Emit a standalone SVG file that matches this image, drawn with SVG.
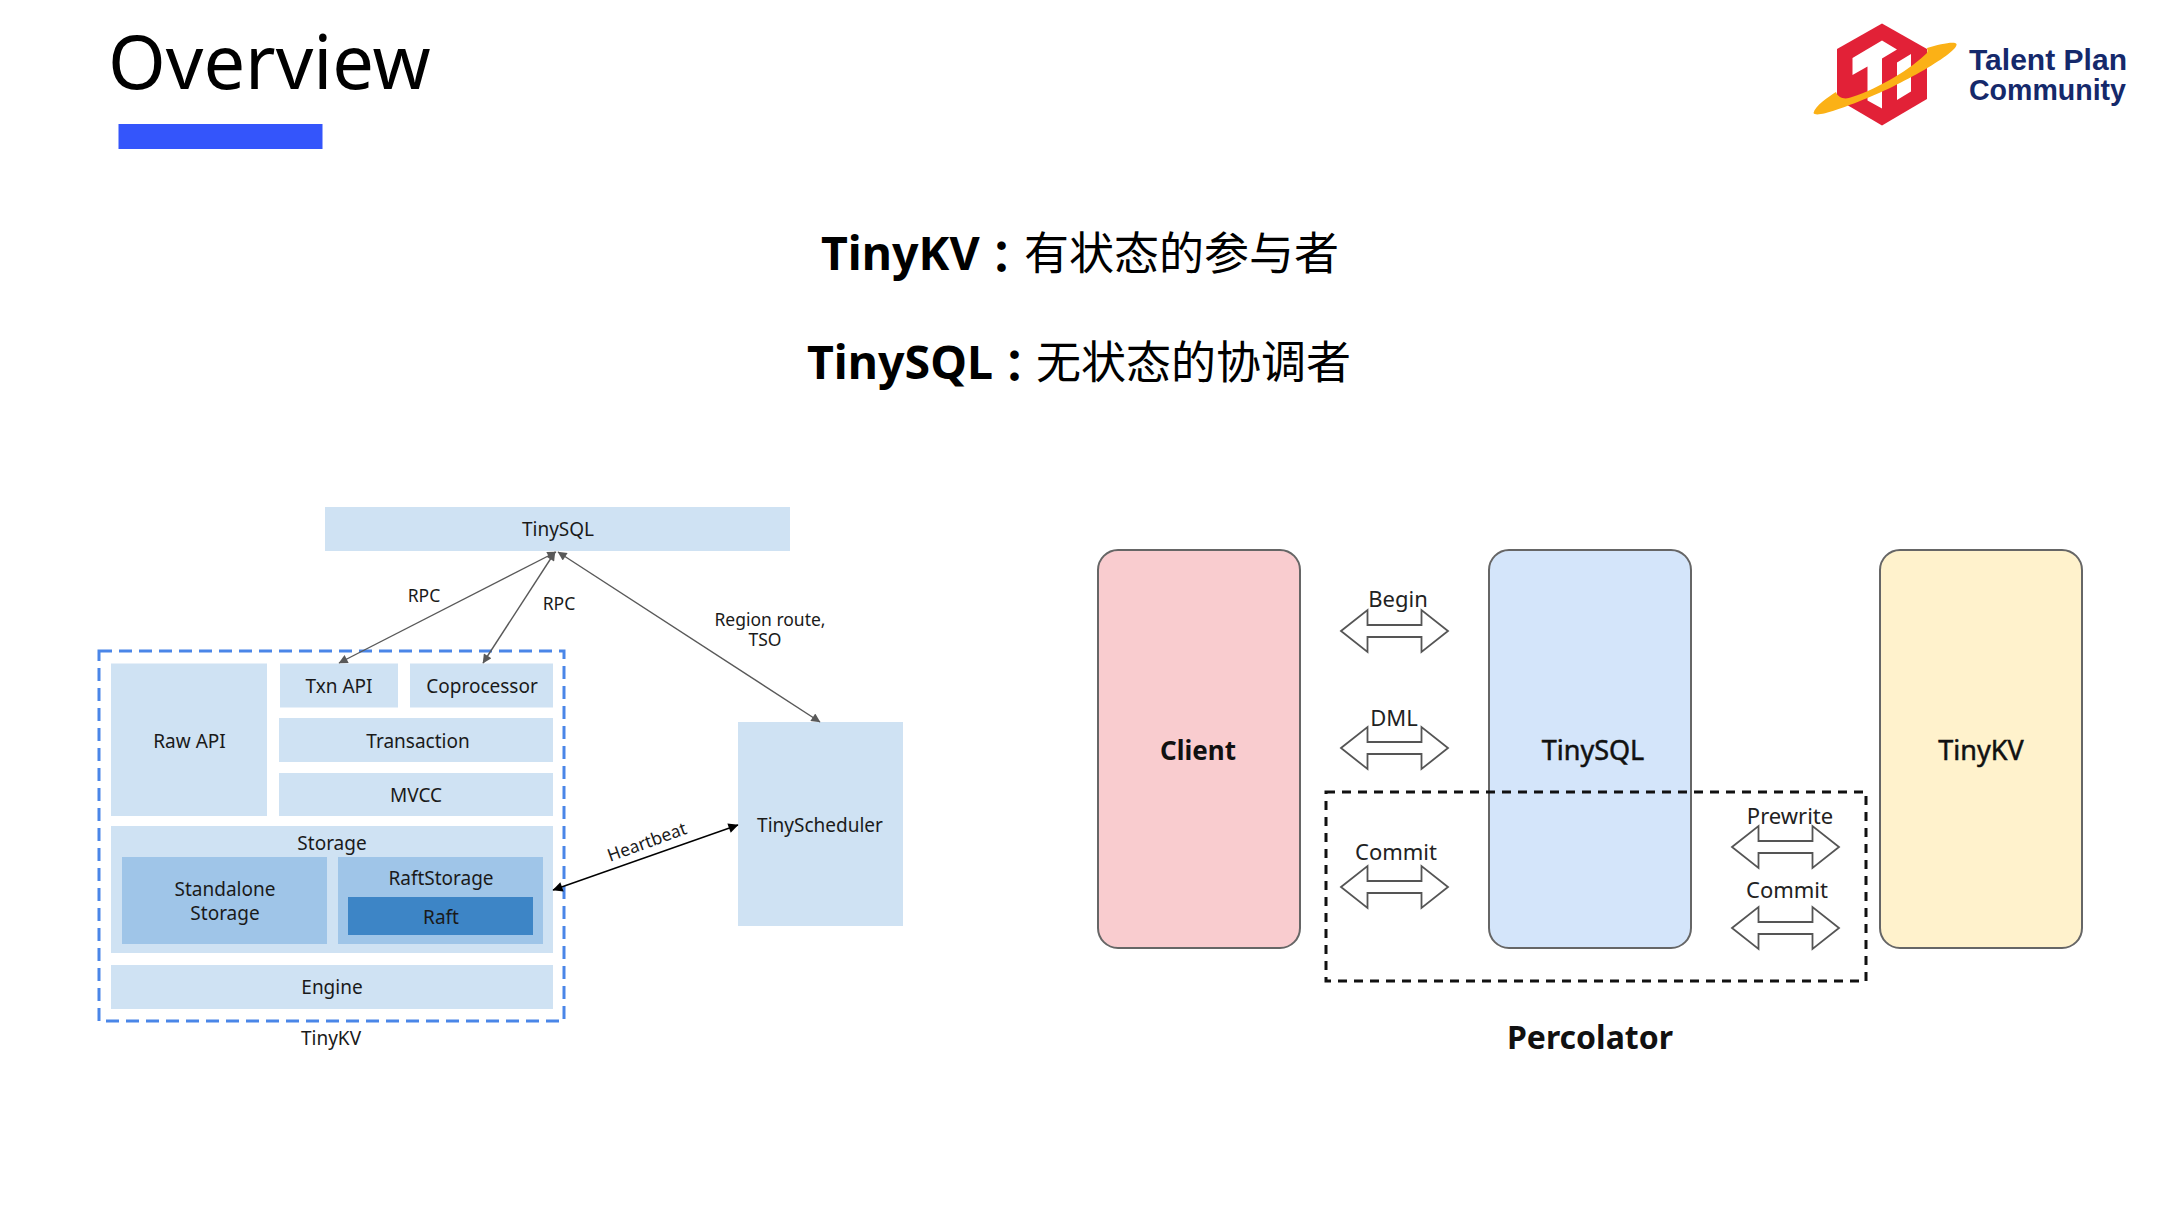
<svg xmlns="http://www.w3.org/2000/svg" width="2160" height="1215" viewBox="0 0 2160 1215">
<style>
text{font-family:"Noto Sans","Noto Sans CJK SC",sans-serif;fill:#1a1a1a}
.c{text-anchor:middle}
.l{font-size:19px}
.s{font-size:17.500px}
.p{font-size:22px;fill:#222}
.n{font-size:27px;fill:#111;stroke:#111;stroke-width:.5}
.h{font-size:45px;fill:#000}
.b{font-weight:700}
.lat{font-size:46.500px;font-weight:700}
.box{fill:#cfe2f3}
.mid{fill:#9fc5e8}
.dark{fill:#3d85c6}
.arrow{fill:#fff;stroke:#555;stroke-width:1.800;stroke-linejoin:miter}
.edge{fill:none;stroke:#595959;stroke-width:1.400}
.colon{font-family:"Noto Sans CJK TC",sans-serif;font-weight:700}
.logo{font-family:"Liberation Sans",sans-serif;font-size:29px;font-weight:700;fill:#15296b}
</style>
<defs>
<marker id="ag" viewBox="0 0 10 10" refX="9.500" refY="5" markerWidth="11" markerHeight="9" markerUnits="userSpaceOnUse" orient="auto-start-reverse"><path d="M0 0L10 5L0 10Z" fill="#595959"/></marker>
<marker id="ak" viewBox="0 0 10 10" refX="9.500" refY="5" markerWidth="12" markerHeight="10" markerUnits="userSpaceOnUse" orient="auto-start-reverse"><path d="M0 0L10 5L0 10Z" fill="#000"/></marker>
<path id="dbl" d="M-53.500,0L-27,-21V-6H27V-21L53.500,0L27,21V6H-27V21Z"/>
</defs>
<rect width="2160" height="1215" fill="#fff"/>
<g id="title">
<text x="108" y="89" style="font-size:74px;fill:#000">Overview</text>
<rect x="118.500" y="124" width="204" height="25" fill="#3455fb"/>
</g>
<g id="logo">
<path d="M1882 23.500L1927 49V99L1882 125.500L1837 99V49Z" fill="#e22137"/>
<path d="M1852.500 58L1882 40.500L1897 49.500L1882 58.500V108.500L1867.500 100.500V66.500L1852.500 75Z" fill="#fff"/>
<path d="M1897 62.500L1911 54V91.500L1897 100Z" fill="#fff"/>
<path d="M1813.500 113C1815 106 1828 97 1836 92C1838 98 1845 100 1852 97C1880 88 1912 68 1927 53C1928 50 1927 49 1927 48C1940 44 1955 41 1956.500 44C1959 52 1900 86 1860 101C1840 109 1816 118 1813.500 113Z" fill="#fbb116"/>
<text x="1969" y="70" class="logo" textLength="158" lengthAdjust="spacingAndGlyphs">Talent Plan</text>
<text x="1969" y="100" class="logo" textLength="157" lengthAdjust="spacingAndGlyphs">Community</text>
</g>
<g id="headings">
<text y="270" class="h"><tspan x="821" class="lat">TinyKV</tspan><tspan x="979" y="274" class="colon">：</tspan><tspan x="1024" y="270">有状态的参与者</tspan></text>
<text y="379" class="h"><tspan x="807" class="lat">TinySQL</tspan><tspan x="992" y="383" class="colon">：</tspan><tspan x="1036" y="379">无状态的协调者</tspan></text>
</g>
<g id="tinykv-frame">
<rect x="99" y="651" width="465" height="370" fill="none" stroke="#4a86e8" stroke-width="3" stroke-dasharray="13 7"/>
<text x="331" y="1044.500" class="l c">TinyKV</text>
</g>
<g id="tinysql-top"><rect class="box" x="325" y="507" width="465" height="44"/><text x="558" y="536" class="l c">TinySQL</text></g>
<g id="raw-api"><rect class="box" x="111" y="663.500" width="156" height="152.500"/><text x="189.500" y="747.500" class="l c">Raw API</text></g>
<g id="txn-api"><rect class="box" x="280" y="663.500" width="118" height="44"/><text x="339" y="693" class="l c">Txn API</text></g>
<g id="coprocessor"><rect class="box" x="410" y="663.500" width="143" height="44"/><text x="482" y="693" class="l c">Coprocessor</text></g>
<g id="transaction"><rect class="box" x="279" y="718" width="274" height="44"/><text x="418" y="747.500" class="l c">Transaction</text></g>
<g id="mvcc"><rect class="box" x="279" y="773" width="274" height="43"/><text x="416" y="802" class="l c">MVCC</text></g>
<g id="storage"><rect class="box" x="111" y="826" width="442" height="127"/><text x="332" y="850" class="l c">Storage</text></g>
<g id="standalone"><rect class="mid" x="122" y="857" width="205" height="87"/><text x="225" y="896" class="l c">Standalone</text><text x="225" y="920" class="l c">Storage</text></g>
<g id="raftstorage"><rect class="mid" x="338" y="857" width="205" height="87"/><text x="441" y="885" class="l c">RaftStorage</text></g>
<g id="raft"><rect class="dark" x="348" y="897" width="185" height="38"/><text x="441" y="923.500" class="l c">Raft</text></g>
<g id="engine"><rect class="box" x="111" y="965" width="442" height="44"/><text x="332" y="994" class="l c">Engine</text></g>
<g id="tinyscheduler"><rect class="box" x="738" y="722" width="165" height="204"/><text x="820" y="831.500" class="l c">TinyScheduler</text></g>
<g id="connectors-left">
<path class="edge" marker-start="url(#ag)" marker-end="url(#ag)" d="M556 552L339 663"/>
<path class="edge" marker-start="url(#ag)" marker-end="url(#ag)" d="M555 552L483 663"/>
<path class="edge" marker-start="url(#ag)" marker-end="url(#ag)" d="M558 552L820 722"/>
<path class="edge" style="stroke:#000" marker-start="url(#ak)" marker-end="url(#ak)" d="M553 890L738 825"/>
<text x="424" y="602" class="s c">RPC</text>
<text x="559" y="610" class="s c">RPC</text>
<text x="770" y="626" class="s c">Region route,</text>
<text x="765" y="646" class="s c">TSO</text>
<text x="647" y="848" class="s c" transform="rotate(-20 647 842)">Heartbeat</text>
</g>
<g id="client"><rect x="1098" y="550" width="202" height="398" rx="20" fill="#f9cccf" stroke="#666" stroke-width="2"/><text x="1198" y="760" class="c b" style="font-size:26px;fill:#111">Client</text></g>
<g id="tinysql"><rect x="1489" y="550" width="202" height="398" rx="20" fill="#d4e5fa" stroke="#666" stroke-width="2"/><text x="1593" y="760" class="n c">TinySQL</text></g>
<g id="tinykv"><rect x="1880" y="550" width="202" height="398" rx="20" fill="#fff2cc" stroke="#666" stroke-width="2"/><text x="1981" y="760" class="n c">TinyKV</text></g>
<g id="connectors-right">
<rect x="1326" y="792" width="540" height="189" fill="none" stroke="#111" stroke-width="3" stroke-dasharray="9 7"/>
<use href="#dbl" class="arrow" x="1394.500" y="631"/>
<use href="#dbl" class="arrow" x="1394.500" y="748"/>
<use href="#dbl" class="arrow" x="1394.500" y="887"/>
<use href="#dbl" class="arrow" x="1785.500" y="847"/>
<use href="#dbl" class="arrow" x="1785.500" y="928"/>
<text x="1398" y="607" class="p c">Begin</text>
<text x="1394" y="726" class="p c">DML</text>
<text x="1396" y="860" class="p c">Commit</text>
<text x="1790" y="824" class="p c">Prewrite</text>
<text x="1787" y="898" class="p c">Commit</text>
</g>
<text x="1590" y="1049" class="b c" style="font-size:32px;fill:#111">Percolator</text>
</svg>
